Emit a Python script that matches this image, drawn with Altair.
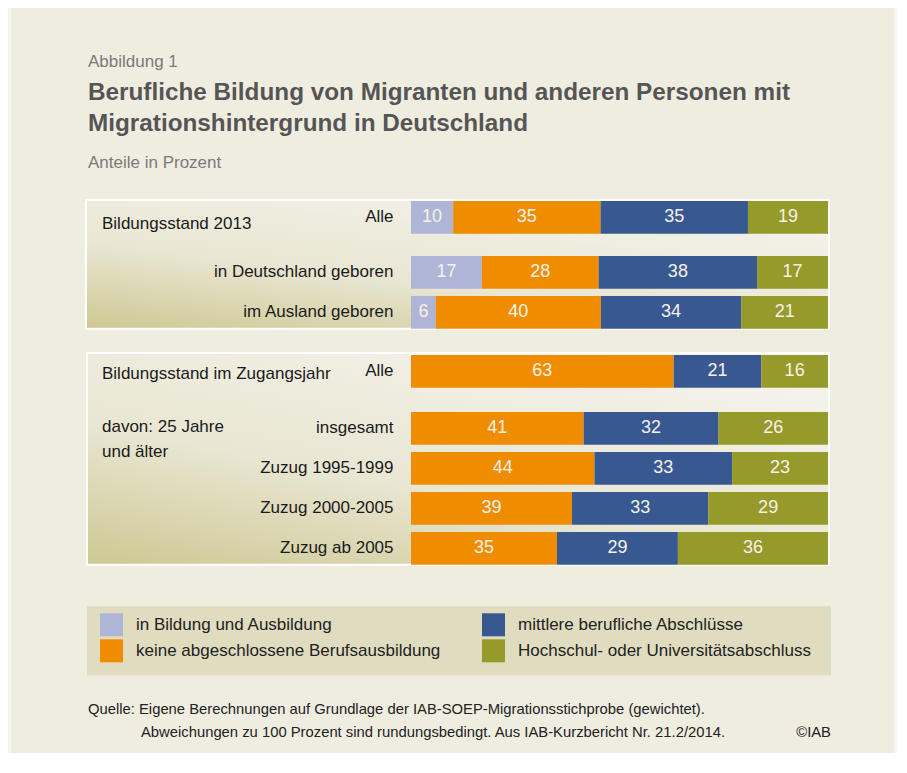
import altair as alt
import pandas as pd

BODY = "Liberation Sans, Arial, sans-serif"
WIDE = "Liberation Sans, Arial, sans-serif"

categories = ["in Bildung und Ausbildung", "keine abgeschlossene Berufsausbildung",
              "mittlere berufliche Abschlüsse", "Hochschul- oder Universitätsabschluss"]
colors = ["#aeb5d6", "#f08c00", "#385891", "#959a2a"]

rows_2013 = ["Alle", "in Deutschland geboren", "im Ausland geboren"]
bildung_2013 = [10, 17, 6]
keine_2013 = [35, 28, 40]
mittlere_2013 = [35, 38, 34]
hochschul_2013 = [19, 17, 21]

rows_zugang = ["Alle", "insgesamt", "Zuzug 1995-1999", "Zuzug 2000-2005", "Zuzug ab 2005"]
keine_zugang = [63, 41, 44, 39, 35]
mittlere_zugang = [21, 32, 33, 33, 29]
hochschul_zugang = [16, 26, 23, 29, 36]

records = []
for panel, rows, series in [
    ("2013", rows_2013, [bildung_2013, keine_2013, mittlere_2013, hochschul_2013]),
    ("Zugang", rows_zugang, [None, keine_zugang, mittlere_zugang, hochschul_zugang]),
]:
    for i, row in enumerate(rows):
        for k, (cat, vals) in enumerate(zip(categories, series)):
            if vals is None:
                continue
            records.append(dict(panel=panel, row=row, cat=cat, rank=k, value=vals[i]))
df = pd.DataFrame(records)

dummy = pd.DataFrame({"d": [0]})
W = 417
FS = 17


def txt(text, x, y, size=FS, color="#222222", weight="normal", font=BODY, align="left"):
    return alt.Chart(dummy).mark_text(
        text=text, align=align, baseline="alphabetic", font=font, fontSize=size,
        color=color, fontWeight=weight
    ).encode(x=alt.value(x), y=alt.value(y))


def rect(x, x2, y, y2, **kw):
    return alt.Chart(dummy).mark_rect(**kw).encode(
        x=alt.value(x), x2=alt.value(x2), y=alt.value(y), y2=alt.value(y2))


# the legend fills its two columns one after the other
legend = alt.Legend(
    title=None, orient="none", legendX=-311, legendY=412.3, columns=2, columnPadding=41,
    rowPadding=3, symbolType="square", symbolSize=529, symbolStrokeWidth=0, symbolOpacity=1,
    labelFont=BODY, labelFontSize=FS, labelColor="#222222", labelOffset=13, labelLimit=500,
    padding=0,
)


def bars(panel, rows):
    base = alt.Chart(df).transform_filter(
        alt.datum.panel == panel
    ).transform_filter(
        alt.FieldOneOfPredicate(field="row", oneOf=rows)
    ).transform_joinaggregate(
        total="sum(value)", groupby=["row"]
    ).transform_window(
        cum="sum(value)", sort=[alt.SortField("rank")], groupby=["row"], frame=[None, 0]
    ).transform_calculate(
        x0="(datum.cum - datum.value) / datum.total",
        x1="datum.cum / datum.total",
        mid="(datum.cum - datum.value / 2) / datum.total",
    )
    xs = alt.Scale(domain=[0, 1], nice=False, zero=False)
    y = alt.Y("row:N", sort=rows, scale=alt.Scale(paddingInner=0.18, paddingOuter=0),
              axis=alt.Axis(title=None, ticks=False, tickSize=0, domain=False, labelPadding=18,
                            labelFont=BODY, labelFontSize=FS, labelColor="#1a1a1a",
                            labelLimit=400, zindex=1))
    b = base.mark_bar().encode(
        x=alt.X("x0:Q", scale=xs, axis=None), x2="x1:Q", y=y,
        color=alt.Color("cat:N", scale=alt.Scale(domain=categories, range=colors),
                        legend=legend),
    )
    t = base.mark_text(font=BODY, fontSize=18, color="#f6f2e9", baseline="middle").encode(
        x=alt.X("mid:Q", scale=xs, axis=None), y=alt.Y("row:N", sort=rows), text="value:Q")
    return b, t


grad = alt.LinearGradient(
    gradient="linear",
    stops=[alt.GradientStop(offset=0, color="#cdc892"),
           alt.GradientStop(offset=0.45, color="#e9e6d3"),
           alt.GradientStop(offset=1, color="#f4f2ea")],
    x1=0, y1=1, x2=0.7, y2=0,
)

# ---- Panel 1, row "Alle" (with header and background decoration)
b1a, t1a = bars("2013", ["Alle"])
A1 = alt.layer(
    rect(-400, 483, -193, 552, fill="#efede0"),
    rect(-325, 418, -1, 127.7, fill=grad, stroke="white", strokeWidth=2),
    txt("Abbildung 1", -323, -134.3, color="#7a7a7a"),
    txt("Berufliche Bildung von Migranten und anderen Personen mit", -323, -101, size=24.3,
        color="#555555", weight="bold", font=WIDE),
    txt("Migrationshintergrund in Deutschland", -323, -70.3, size=24.3,
        color="#555555", weight="bold", font=WIDE),
    txt("Anteile in Prozent", -323, -33.3, color="#7a7a7a"),
    txt("Bildungsstand 2013", -309, 28, color="#1a1a1a"),
    b1a, t1a,
).properties(width=W, height=32.7)

b1b, t1b = bars("2013", rows_2013[1:])
B1 = alt.layer(b1b, t1b).properties(width=W, height=72.7)

# ---- Panel 2
b2a, t2a = bars("Zugang", ["Alle"])
A2 = alt.layer(
    rect(-324, 418, -2, 209.7, fill=grad, stroke="white", strokeWidth=2),
    txt("Bildungsstand im Zugangsjahr", -309, 23.7, color="#1a1a1a"),
    txt("davon: 25 Jahre", -309, 77, color="#1a1a1a"),
    txt("und älter", -309, 102, color="#1a1a1a"),
    b2a, t2a,
).properties(width=W, height=32.7)

b2b, t2b = bars("Zugang", rows_zugang[1:])
B2 = alt.layer(b2b, t2b).properties(width=W, height=152.7)

# ---- legend box and source notes
F = alt.layer(
    rect(-324, 420, 41.3, 110.3, fill="#e0dcc0"),
    txt("Quelle: Eigene Berechnungen auf Grundlage der IAB-SOEP-Migrationsstichprobe (gewichtet).",
        -323, 149.3, size=14.8),
    txt("Abweichungen zu 100 Prozent sind rundungsbedingt. Aus IAB-Kurzbericht Nr. 21.2/2014.",
        -270, 172.3, size=14.8),
    txt("©IAB", 420, 172.3, size=14.8, align="right"),
).properties(width=W, height=10)


def gap(h):
    return alt.Chart(dummy).mark_point(opacity=0).encode(
        x=alt.value(0), y=alt.value(0)).properties(width=W, height=h)


chart = alt.vconcat(
    A1, gap(21.3), B1, gap(25.3), A2, gap(23.3), B2, F,
    spacing=0, bounds="flush",
).properties(
    padding={"left": 3, "top": 0, "right": 3, "bottom": 0},
    background="#f6f5ef",
).configure_view(stroke=None)

chart.save("out.html", embed_options={"renderer": "svg", "actions": False})
